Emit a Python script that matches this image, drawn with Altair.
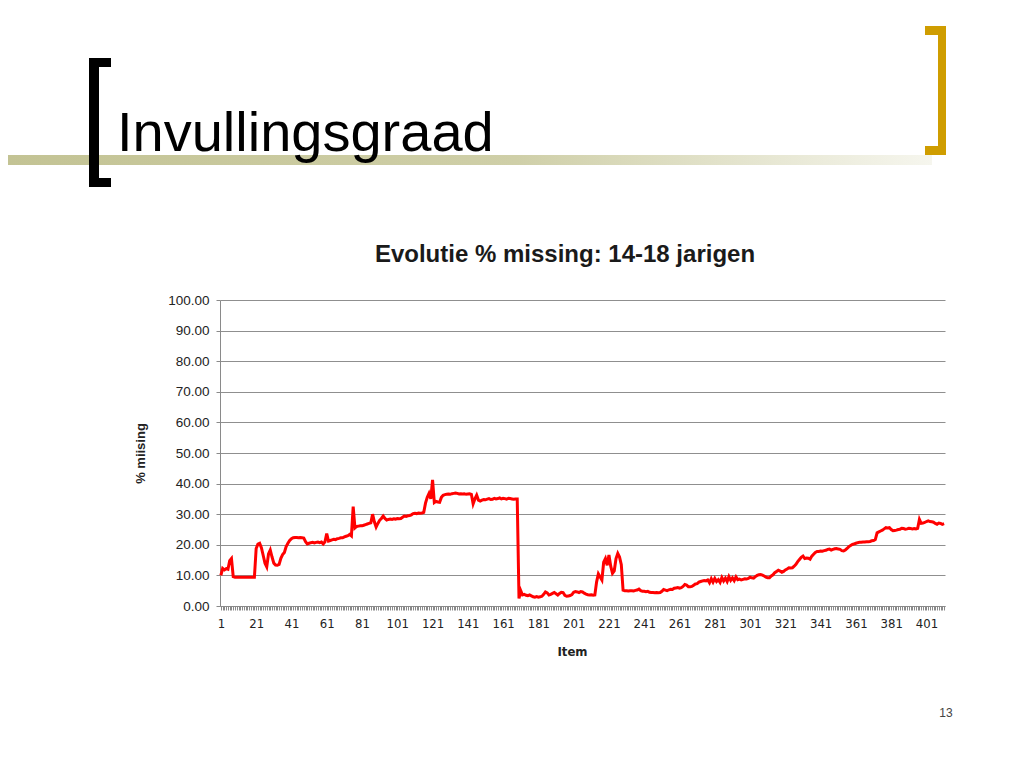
import altair as alt
import pandas as pd

# % missing per item (items 1..411)
seg_a = [10.0, 12.3, 11.8, 12.2, 12.0, 14.8, 15.5, 9.6,
         9.4, 9.4, 9.4, 9.4, 9.4, 9.4, 9.4, 9.4, 9.4, 9.4, 9.4, 9.4,
         18.8, 20.2, 20.5, 19.0, 16.5, 14.0, 12.8, 17.0, 18.3, 16.0, 14.0,
         13.4, 13.3, 13.6, 15.6, 16.8, 17.5, 19.4, 20.5, 21.4, 22.0,
         22.3, 22.4, 22.4, 22.3, 22.4, 22.3, 22.2,
         21.0, 20.3,
         20.5, 20.7, 20.8, 20.6, 20.8, 20.9, 20.7, 20.9,
         20.3, 21.0, 23.7, 21.2,
         21.4, 21.6, 21.8, 21.7, 22.0, 22.1, 22.3, 22.3, 22.6, 22.8,
         23.0, 23.4, 22.9, 32.5, 25.5,
         26.0, 26.1, 26.2, 26.2, 26.4,
         26.6, 26.8, 27.0, 27.2, 30.0, 27.5, 25.8,
         27.0, 28.0, 28.6, 29.4, 28.6, 28.1,
         28.3, 28.4, 28.3, 28.5, 28.4, 28.6, 28.5, 28.6]
seg_b = [29.0, 29.4, 29.3, 29.5, 29.6, 29.8, 30.2, 30.3, 30.2, 30.4, 30.3, 30.4, 30.6,
         33.6, 35.5, 36.8, 35.0, 41.2, 33.8, 34.2, 34.0, 33.9, 35.5, 36.2,
         36.4, 36.5, 36.6, 36.5, 36.7, 36.8, 36.9, 36.8, 36.6, 36.7, 36.6, 36.7, 36.5, 36.6, 36.7,
         36.5, 33.4, 35.0, 36.2, 34.6, 34.3,
         34.6, 34.8, 34.7, 34.9, 35.1, 34.8, 34.9, 35.2, 35.0, 35.1, 35.3, 35.0, 35.2, 35.1,
         34.9, 35.2, 35.1, 35.0, 34.9, 35.0, 35.0]
seg_c = [2.5, 5.0, 3.6,
         3.8, 3.5, 3.4, 3.6, 3.3,
         3.0, 2.9, 3.1, 2.9, 3.0, 3.2,
         3.8, 4.6, 4.3, 3.6, 3.8, 4.1, 4.4, 4.0, 3.6, 4.1, 4.5, 4.4, 3.5, 3.2, 3.3, 3.4, 3.7, 4.5, 4.7,
         4.6, 4.4, 4.7, 4.6, 4.2, 3.9, 3.7, 3.6, 3.7, 3.5, 3.6,
         7.9, 10.5, 9.5, 8.5, 14.3, 15.5, 13.3, 16.7, 13.0, 10.7, 11.5, 15.5, 17.2, 16.0, 13.5,
         5.2, 5.0, 5.0, 4.9, 5.0, 5.0, 4.9, 5.1, 5.2, 5.5, 5.0, 4.8, 4.8, 4.7, 4.8, 4.5, 4.4,
         4.4, 4.3, 4.4, 4.3, 4.4]
seg_d = [4.8, 5.4, 5.2, 5.0, 5.3, 5.5, 5.4, 5.8, 5.9, 6.0, 5.8, 6.0, 6.4, 7.0, 6.8, 6.3,
         6.3, 6.4, 6.8, 7.2, 7.3, 7.8, 8.0, 8.2, 8.3, 8.2, 8.5,
         7.6, 8.9, 7.8, 9.0, 8.0, 8.6, 7.7, 9.3, 8.2, 9.1, 8.0, 9.6, 8.4, 9.2, 8.3, 9.5, 8.6,
         8.8, 8.5, 8.7, 8.9, 8.8, 9.0, 9.4, 9.2, 9.1, 9.6, 10.0, 10.2, 10.3, 10.1]
seg_e = [9.8, 9.4, 9.2, 9.2, 9.8, 10.2, 10.9, 11.3, 11.7, 11.4,
         11.0, 11.3, 11.8, 12.1, 12.5, 12.4, 12.5, 13.0, 13.6, 14.5,
         15.2, 15.9, 16.3, 15.5, 15.7, 15.6, 15.3, 16.3, 16.9, 17.5,
         17.8, 17.8, 18.0, 17.9, 18.1, 18.2, 18.5, 18.6, 18.3, 18.5,
         18.7, 18.8, 18.6, 18.5, 18.1, 18.0, 18.3, 18.8, 19.4, 19.8,
         20.1, 20.3, 20.5, 20.7, 20.8, 20.8, 20.9, 20.9, 21.0, 21.0,
         21.1, 21.3, 21.4, 21.7, 23.9, 24.2, 24.5, 24.8, 25.2, 25.6,
         25.5, 25.6, 25.0, 24.6, 24.7, 24.8, 25.0, 25.1, 25.4, 25.3,
         25.1, 25.2, 25.4, 25.3, 25.2, 25.3, 25.2, 25.4, 28.3, 27.0,
         27.1, 27.3, 27.6, 27.8, 27.6, 27.5, 27.4, 27.0, 26.7, 27.1,
         27.0, 26.7, 26.9]

values = seg_a + seg_b + seg_c + seg_d + seg_e
items = list(range(1, len(values) + 1))
y_ticks = [0, 10, 20, 30, 40, 50, 60, 70, 80, 90, 100]

slide_title = "Invullingsgraad"
chart_title = "Evolutie % missing: 14-18 jarigen"
x_title = "Item"
y_title = "% miising"
page_no = "13"

df = pd.DataFrame({"item": items, "value": values})

FONT = "Liberation Sans"
NARROW = "Liberation Sans Narrow, DejaVu Sans Condensed, Liberation Sans"
one = alt.Data(values=[{}])

n = len(items)
line = alt.Chart(df).mark_line(color="#FF0000", strokeWidth=3, strokeJoin="miter").encode(
    x=alt.X("item:Q",
            scale=alt.Scale(domain=[0.5, n + 0.5], nice=False, zero=False),
            axis=alt.Axis(values=items, format="d",
                          labelExpr="(datum.value - 1) % 20 == 0 ? datum.label : ''",
                          labelOverlap=False, labelFlush=False, grid=False,
                          tickSize=4, tickColor="#8a8a8a", domainColor="#8a8a8a",
                          labelFont=NARROW, labelFontSize=13, labelColor="#222222",
                          labelPadding=7,
                          title=x_title, titleFont=NARROW, titleFontSize=13,
                          titleFontWeight="bold", titleColor="#222222",
                          titleX=352, titleY=45, titleAlign="center", titleBaseline="middle")),
    y=alt.Y("value:Q",
            scale=alt.Scale(domain=[0, 100], nice=False),
            axis=alt.Axis(values=y_ticks, format=".2f", grid=True, gridColor="#8f8f8f",
                          gridWidth=1, tickSize=4, tickColor="#8a8a8a", domainColor="#8a8a8a",
                          labelFont=FONT, labelFontSize=13.5, labelColor="#222222",
                          labelPadding=7,
                          title=y_title, titleFont=FONT, titleFontSize=13,
                          titleFontWeight="bold", titleColor="#222222",
                          titleX=-80, titleY=153, titleAngle=270,
                          titleAlign="center", titleBaseline="middle")),
)

band = alt.Chart(one).mark_rect(color={
    "gradient": "linear", "x1": 0, "x2": 1, "y1": 0, "y2": 0,
    "stops": [{"offset": 0, "color": "#c3c394"},
              {"offset": 0.55, "color": "#cfcfa8"},
              {"offset": 1, "color": "#f6f6ee"}]}).encode(
    x=alt.value(-212), x2=alt.value(712), y=alt.value(-145), y2=alt.value(-135))

def rect(x, x2, y, y2, color):
    return alt.Chart(one).mark_rect(color=color).encode(
        x=alt.value(x), x2=alt.value(x2), y=alt.value(y), y2=alt.value(y2))

lb_v = rect(-131, -121, -242, -113, "#000000")
lb_t = rect(-131, -109, -242, -233, "#000000")
lb_b = rect(-131, -109, -122, -113, "#000000")
GOLD = "#CF9D00"
rb_v = rect(718, 726, -274, -145, GOLD)
rb_t = rect(705, 726, -274, -265, GOLD)
rb_b = rect(705, 726, -154, -145, GOLD)

title_txt = alt.Chart(one).mark_text(text=slide_title, align="left", baseline="alphabetic",
                                     font=FONT, fontSize=56, color="#000000").encode(
    x=alt.value(-103), y=alt.value(-149))
ctitle = alt.Chart(one).mark_text(text=chart_title, align="center", baseline="alphabetic",
                                  font=FONT, fontSize=24, fontWeight="bold",
                                  color="#1a1a1a").encode(
    x=alt.value(345), y=alt.value(-38))
pnum = alt.Chart(one).mark_text(text=page_no, align="center", baseline="middle",
                                font=FONT, fontSize=12, color="#444444").encode(
    x=alt.value(726), y=alt.value(413))

chart = alt.layer(band, lb_v, lb_t, lb_b, rb_v, rb_t, rb_b, title_txt, ctitle, pnum, line).properties(
    width=725, height=306,
    padding={"left": 212, "top": 292, "right": 68, "bottom": 150},
    autosize="none",
    background="white",
).configure_view(strokeWidth=0)

chart.save("out.html", embed_options={"renderer": "svg", "actions": False})
